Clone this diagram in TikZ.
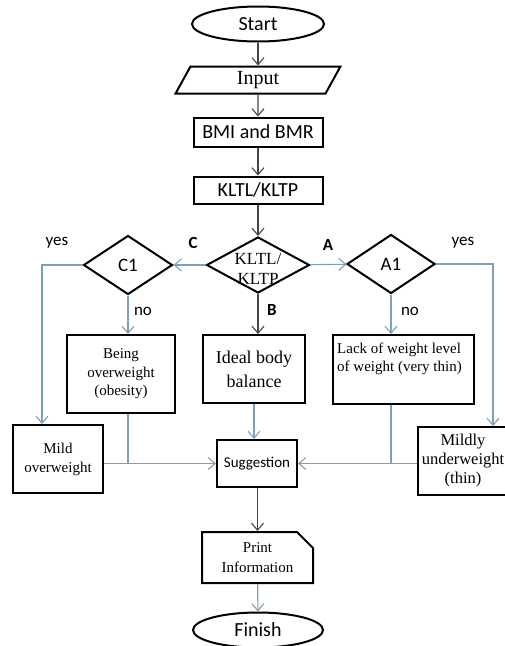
\documentclass[tikz,border=0pt]{standalone}
\usepackage{fontspec}
\setmainfont{Liberation Serif}
\newfontfamily\carl{Carlito}
\usetikzlibrary{arrows.meta,shapes.geometric,shapes.misc}
\definecolor{lkdark}{RGB}{70,70,70}
\definecolor{lkblue}{RGB}{125,160,185}
\begin{document}
\begin{tikzpicture}[x=1pt,y=-1pt,
  box/.style={draw=black,line width=2pt,inner sep=0pt,align=center},
  tip/.style={-{Straight Barb[length=7pt,width=12pt]}},
  darkline/.style={draw=lkdark,line width=1.1pt},
  blueline/.style={draw=lkblue,line width=1.1pt},
  lbl/.style={font=\carl\fontsize{17}{19}\selectfont,inner sep=0pt},
  sans20/.style={font=\carl\fontsize{20}{22}\selectfont},
  ser15/.style={font=\fontsize{15}{18.5}\selectfont},
]
\useasboundingbox (0,0) rectangle (505,646);
\fill[white] (0,0) rectangle (505,646);

% main column
\node[box,ellipse,minimum width=132,minimum height=35,sans20] (start) at (258,24) {Start};
\node[box,trapezium,trapezium left angle=75,trapezium right angle=105,trapezium stretches=true,
      minimum width=165,minimum height=27,font=\fontsize{20}{22}\selectfont] (input) at (258,80) {Input};
\node[box,minimum width=129,minimum height=29,sans20] (bmi) at (258,132) {BMI and BMR};
\node[box,minimum width=129,minimum height=27,sans20] (kltl) at (258,190) {KLTL/KLTP};
\node[box,diamond,minimum width=103,minimum height=56,
      label={[font=\fontsize{17}{20}\selectfont,align=center,inner sep=0pt,yshift=-4pt]center:KLTL/\\KLTP}] (dia) at (258,265) {};

% decisions
\node[box,diamond,minimum width=89,minimum height=59,font=\carl\fontsize{19}{21}\selectfont] (c1) at (128,265) {C1};
\node[box,diamond,minimum width=88,minimum height=59,font=\carl\fontsize{19}{21}\selectfont] (a1) at (391,264) {A1};

% outcome boxes
\node[box,minimum width=108,minimum height=78,ser15] (being) at (121,374) {Being\\overweight\\(obesity)};
\node[box,minimum width=102,minimum height=68,font=\fontsize{18}{24}\selectfont] (ideal) at (254,369) {Ideal body\\balance};
\node[box,minimum width=141,minimum height=69,
      label={[anchor=north west,align=left,inner sep=0pt,xshift=5pt,yshift=-9pt,font=\fontsize{15}{18}\selectfont]north west:Lack of weight level\\of weight (very thin)}] (lack) at (403.5,369.5) {};
\node[box,minimum width=90,minimum height=68,font=\fontsize{15}{19}\selectfont] (mild) at (58,459) {Mild\\overweight};
\node[box,minimum width=96,minimum height=68,
      label={[font=\fontsize{16.5}{19}\selectfont,align=center,inner sep=0pt,xshift=-3pt]center:Mildly\\underweight\\(thin)}] (mildly) at (466,461) {};
\node[box,minimum width=80,minimum height=47,font=\carl\fontsize{15}{18}\selectfont] (sugg) at (257,463.5) {Suggestion};
\node[box,chamfered rectangle,chamfered rectangle corners=north east,
      chamfered rectangle xsep=8pt,chamfered rectangle ysep=8pt,
      minimum width=111,minimum height=51,font=\fontsize{15}{20}\selectfont] (print) at (257.5,557.5) {Print\\Information};
\node[box,ellipse,minimum width=130,minimum height=35,sans20] (finish) at (258,630) {Finish};

% labels
\node[lbl] (lyesl) at (57,243) {yes};
\node[lbl,font=\carl\bfseries\fontsize{17}{19}\selectfont] (lc) at (193,243) {C};
\node[lbl,font=\carl\bfseries\fontsize{17}{19}\selectfont] (la) at (328,245) {A};
\node[lbl] (lyesr) at (463,243) {yes};
\node[lbl] (lnol) at (143,311) {no};
\node[lbl,font=\carl\bfseries\fontsize{17}{19}\selectfont] (lb) at (272,310) {B};
\node[lbl] (lnor) at (410,311) {no};

% helper coordinates
\coordinate (cy) at (42,265);
\coordinate (ay) at (493,264);

% connectors
\draw[darkline,tip] (start) -- (input);
\draw[darkline,tip] (input) -- (bmi);
\draw[darkline,tip] (bmi) -- (kltl);
\draw[darkline,tip] (kltl) -- (dia);
\draw[blueline,tip] (dia) -- (c1);
\draw[blueline,tip] (dia) -- (a1);
\draw[darkline,tip] (dia.south) -- (dia.south |- ideal.north);
\draw[blueline,tip] (c1.west) -- (cy) -- (cy |- mild.north);
\draw[blueline,tip] (a1.east) -- (ay) -- (ay |- mildly.north);
\draw[blueline,tip] (c1.south) -- (c1.south |- being.north);
\draw[blueline,tip] (a1.south) -- (a1.south |- lack.north);
\draw[blueline] (c1.south |- being.south) -- (c1.south |- sugg.west);
\draw[blueline,tip] (mild.east |- sugg.west) -- (sugg.west);
\draw[blueline] (a1.south |- lack.south) -- (a1.south |- sugg.east);
\draw[blueline,tip] (mildly.west |- sugg.east) -- (sugg.east);
\draw[blueline,tip] (ideal.south) -- (ideal.south |- sugg.north);
\draw[darkline,tip] (sugg.south -| print.north) -- (print.north);
\draw[blueline,tip] (print) -- (finish);
\end{tikzpicture}
\end{document}
